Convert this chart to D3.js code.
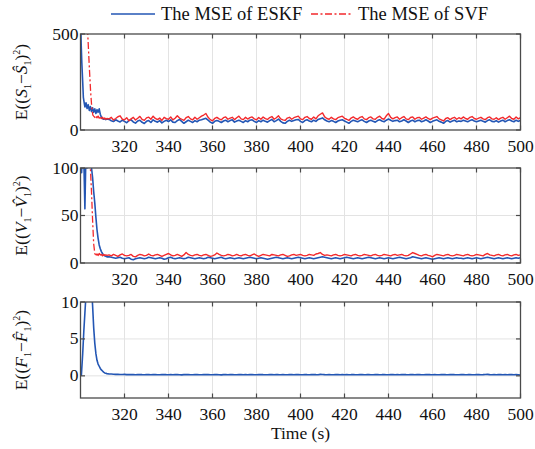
<!DOCTYPE html>
<html><head><meta charset="utf-8">
<script src="https://cdn.jsdelivr.net/npm/d3@7"></script>
<style>
body{margin:0;background:#fff;}
svg{display:block;}
text{font-family:'Liberation Serif','Times New Roman','DejaVu Serif',serif;}
</style></head>
<body>
<svg id="chart" width="535" height="449"></svg>
<script>
// ---------------- DATA ----------------
const xTicks = [320,340,360,380,400,420,440,460,480,500];
const yTicksS = [0,500];
const yTicksV = [0,50,100];
const yTicksF = [0,5,10];
const seriesNames = ["The MSE of ESKF","The MSE of SVF"];
const steadyStart = 313; // steady arrays: one value per second from 313 s to 500 s

// transient parts [time, value]
const eskfS_tr = [[300,620],[300.3,450],[300.6,350],[301,250],[301.3,170],[301.7,140],[302,120],[302.5,142],[303,112],[303.5,132],[304,102],[304.5,122],[305,96],[305.5,116],[306,92],[306.5,110],[307,86],[307.5,106],[308,92],[308.5,110],[309,82],[309.5,66],[310,60],[310.5,56],[311,58],[311.5,54],[312,57]];
const svfS_tr  = [[300,2500],[302,1200],[303,620],[303.3,500],[304,330],[304.6,200],[305.1,120],[305.6,78],[306,72],[306.5,66],[307,70],[307.5,64],[308,72],[308.5,62],[309,64],[309.5,60],[310,66],[310.5,58],[311,62],[311.5,56],[312,60]];
const eskfV_tr = [[300,140],[300.5,95],[301,130],[301.5,110],[302,57],[302.5,120],[303,100],[303.5,130],[304,105],[304.5,115],[305,100],[305.5,90],[306,75],[306.5,63],[307,48],[307.5,35],[308,26],[308.5,19],[309,15],[309.5,12],[310,10],[310.5,8.5],[311,7.5],[311.5,7],[312,6.5]];
const svfV_tr  = [[300,300],[302,200],[303,150],[304,115],[304.5,100],[305,75],[305.5,45],[306,20],[306.5,10],[307,8],[307.5,9.5],[308,8],[308.5,10],[309,8.5],[309.5,9],[310,7.5],[310.5,9],[311,8],[311.5,8.5],[312,8]];
const eskfF_tr = [[300,1.0],[300.4,0.1],[301,3],[301.5,6],[302,8.5],[302.5,11],[303,14],[303.5,16],[304,17],[304.5,15],[305,12],[305.5,9.5],[306,6.5],[306.5,4.4],[307,3],[307.5,2.1],[308,1.6],[308.5,1.3],[309,1.0],[309.5,0.8],[310,0.65],[310.5,0.5],[311,0.4],[311.5,0.35],[312,0.3]];

// steady parts (313..500 s)
const svfS_st = [
58,66,52,60,69,74,56,53,64,48,58,66,52,61,71,55,50,63,67,56,
72,60,54,62,50,66,59,56,68,53,61,74,62,56,50,64,70,58,53,66,
56,64,72,78,86,66,54,48,60,66,58,53,64,68,56,62,66,54,64,72,
58,54,66,57,64,68,58,53,65,56,68,59,55,65,70,56,64,74,58,53,
50,62,66,56,64,68,72,58,54,66,70,60,56,68,58,74,82,89,68,60,
56,66,58,54,64,68,72,61,56,50,62,68,60,56,66,70,58,54,64,68,
58,56,66,72,60,56,74,86,66,58,64,68,56,64,70,58,54,65,68,56,
64,66,56,62,68,60,54,62,66,70,58,53,47,60,64,54,62,66,56,64,
58,68,60,56,66,70,60,56,62,66,58,54,64,68,58,56,64,54,62,66,
56,64,72,60,56,68,58,64];
const eskfS_st = [
55,48,44,53,47,42,51,45,38,49,53,42,36,47,51,40,34,45,49,39,
53,45,41,49,37,45,51,44,53,41,39,49,55,45,35,43,51,45,39,49,
43,51,53,57,61,51,41,35,45,49,45,39,47,51,43,49,53,41,47,51,
45,39,49,43,51,53,45,39,49,43,51,45,41,49,55,43,49,57,45,37,
35,45,51,45,49,53,55,45,39,49,53,47,43,51,45,55,59,63,53,47,
43,49,45,39,47,51,53,47,41,35,45,51,47,43,49,53,45,39,47,51,
45,41,49,53,47,43,51,57,51,45,49,51,43,47,53,47,39,47,51,43,
49,51,43,47,53,47,39,45,49,53,45,41,35,45,49,41,47,51,43,47,
45,51,47,43,49,53,47,43,47,51,45,41,49,53,45,43,49,41,47,51,
43,49,53,47,43,51,45,49];
const svfV_st = [
8.5,7.5,9,8,7,8.5,9.5,8,7.5,8,9,7,6.5,8,9,8.5,7.5,8,9.5,8,
7.5,8.5,9,8,7,8,9,10,8.5,7.5,8,9,8,7,8.5,11,9,8,7.5,8.5,
9,8,7.5,8.5,9,8,7,7.5,8.5,10.5,9,8,7.5,8,9,8.5,7.5,8,9,8,
7.5,8.5,9,8,7.5,8.5,9.5,8,7,8,9,8.5,8,7.5,9,8.5,8,7.5,8.5,9,
8,7,7.5,8.5,9,8,8.5,9,8,7.5,8,9,8.5,8,9.5,10,11,9,8,8.5,
8,7.5,8.5,9,8,7.5,8,9,8.5,8,7.5,8.5,9,8,7.5,8,9,8.5,8,7.5,
8.5,9,8,7.5,8,9,8.5,8,7.5,8.5,9,8,8.5,9,8,7.5,8,9.5,11,10,
9,8,7.5,8.5,9,8,7.5,6.5,8,9,8.5,8,7.5,8.5,9,8,7.5,8,9,8.5,
8,7.5,8.5,9,8,7.5,8,9,8.5,8,7.5,9,10,8.5,8,7.5,8.5,9,8,7.5,
8.5,9,8,7.5,8.5,9,8,8.5];
const eskfV_st = [
6.5,6,5.5,5,5.5,6,5,4.5,5,5.5,4,3.5,4.5,5,5.5,5,4.5,5,6,5.5,
5,4.5,5,5.5,5,4,4.5,5.5,6,5,4.5,5,5.5,5,4.5,5,6,5.5,5,4.5,
5,5.5,5,4.5,5,6,5.5,5,4.5,5,5.5,6,5,4.5,5,5.5,5,4.5,5,5.5,
5,4.5,5,5.5,6,5.5,5,4.5,5,5.5,5,4.5,4,4.5,5,5.5,6,5.5,5,4.5,
5,5.5,5,4.5,5,5.5,6,5.5,5,4.5,5,5.5,5,4.5,5,5.5,6,6.5,6,5.5,
5,4.5,5,5.5,5,4.5,5,5.5,6,5.5,5,4.5,5,5.5,5,4.5,5,5.5,6,5.5,
5,4.5,5,5.5,5,4.5,5,5.5,5,4.5,5,5.5,6,5.5,5,4.5,5,5.5,6.5,6,
5.5,5,4.5,5,5.5,5,4.5,4,4.5,5,5.5,5,4.5,5,5.5,5,4.5,5,5.5,5,
5,4.5,5,5.5,5,4.5,5,5.5,5,4.5,5,5.5,6,5.5,5,4.5,5,5.5,5,4.5,
5,5.5,5,4.5,5,5.5,5,5.5];
const eskfF_st = [
0.26,0.24,0.22,0.2,0.21,0.19,0.18,0.2,0.17,0.16,0.18,0.17,0.15,0.17,0.19,0.16,0.15,0.17,0.16,0.14,
0.16,0.18,0.15,0.14,0.17,0.19,0.16,0.15,0.17,0.14,0.16,0.18,0.15,0.13,0.16,0.18,0.17,0.15,0.14,0.16,
0.18,0.15,0.14,0.17,0.16,0.19,0.15,0.14,0.16,0.18,0.15,0.13,0.16,0.17,0.15,0.18,0.16,0.14,0.15,0.17,
0.16,0.14,0.17,0.15,0.18,0.16,0.14,0.15,0.17,0.19,0.16,0.14,0.15,0.17,0.16,0.14,0.18,0.16,0.15,0.17,
0.15,0.14,0.16,0.18,0.15,0.17,0.16,0.14,0.15,0.18,0.16,0.15,0.17,0.19,0.16,0.15,0.2,0.18,0.16,0.15,
0.17,0.15,0.14,0.16,0.18,0.15,0.16,0.14,0.17,0.15,0.16,0.18,0.15,0.14,0.16,0.17,0.15,0.16,0.18,0.15,
0.14,0.16,0.17,0.15,0.16,0.18,0.15,0.14,0.16,0.17,0.15,0.16,0.14,0.17,0.19,0.16,0.15,0.17,0.16,0.14,
0.16,0.17,0.15,0.14,0.16,0.18,0.16,0.15,0.17,0.15,0.14,0.16,0.18,0.16,0.15,0.17,0.19,0.16,0.15,0.14,
0.16,0.17,0.15,0.16,0.18,0.15,0.14,0.16,0.17,0.15,0.16,0.18,0.2,0.17,0.15,0.16,0.14,0.16,0.17,0.15,
0.16,0.14,0.16,0.18,0.15,0.16,0.14,0.12];

// ---------------- DRAW ----------------
const FONT = "'Liberation Serif','Times New Roman','DejaVu Serif',serif";
const BLUE = "#2356b4", RED = "#f2292c";
const DASH = "7,2.5,2,2.5";
const svg = d3.select("#chart").attr("font-family", FONT);
const x = d3.scaleLinear().domain([300,500]).range([80.5,520.5]);

function combine(tr, st){
  return tr.concat(st.map((v,i)=>[steadyStart+i, v]));
}

const panels = [
  {range:[130,34], domain:[0,500], ticks:yTicksS, series:[combine(eskfS_tr,eskfS_st), combine(svfS_tr,svfS_st)], label:["S","S\u0302"]},
  {range:[263,168], domain:[0,100], ticks:yTicksV, series:[combine(eskfV_tr,eskfV_st), combine(svfV_tr,svfV_st)], label:["V","V\u0302"]},
  {range:[398,302], domain:[-3,10], ticks:yTicksF, series:[combine(eskfF_tr,eskfF_st)], label:["F","F\u0302"]}
];

panels.forEach((p,pi)=>{
  const y = d3.scaleLinear().domain(p.domain).range(p.range);
  const g = svg.append("g");
  const top = p.range[1], bot = p.range[0];
  const L = x.range()[0], R = x.range()[1];
  // grid
  g.append("g").selectAll("line").data(xTicks.filter(t=>t<500)).join("line")
    .attr("x1",d=>x(d)).attr("x2",d=>x(d)).attr("y1",top).attr("y2",bot)
    .attr("stroke","#e3e3e3").attr("stroke-width",1);
  g.append("g").selectAll("line").data(p.ticks.filter(t=>y(t)>top+1 && y(t)<bot-1)).join("line")
    .attr("x1",L).attr("x2",R).attr("y1",d=>y(d)).attr("y2",d=>y(d))
    .attr("stroke","#e3e3e3").attr("stroke-width",1);
  // clip
  const cid = "clip"+pi;
  svg.append("clipPath").attr("id",cid).append("rect")
    .attr("x",L).attr("y",top).attr("width",R-L).attr("height",bot-top);
  const line = d3.line().x(d=>x(d[0])).y(d=>y(d[1]));
  const lg = g.append("g").attr("clip-path",`url(#${cid})`);
  p.series.forEach((s,si)=>{
    if(si===0){
      lg.append("path").datum(s).attr("d",line).attr("fill","none")
        .attr("stroke",BLUE).attr("stroke-width",1.6).attr("stroke-linejoin","round");
    } else {
      // dash-dot style is visible on the transient; the noisy tail reads as a solid line
      const cut = s.findIndex(d=>d[0]>=307);
      lg.append("path").datum(s.slice(0,cut+1)).attr("d",line).attr("fill","none")
        .attr("stroke",RED).attr("stroke-width",1.3).attr("stroke-dasharray",DASH);
      lg.append("path").datum(s.slice(cut)).attr("d",line).attr("fill","none")
        .attr("stroke",RED).attr("stroke-width",1.4).attr("stroke-linejoin","round");
    }
  });
  // box
  g.append("rect").attr("x",L).attr("y",top).attr("width",R-L).attr("height",bot-top)
    .attr("fill","none").attr("stroke","#4a4a4a").attr("stroke-width",1.3);
  // ticks (inward, both sides)
  const tk = g.append("g").attr("stroke","#4a4a4a").attr("stroke-width",1.2);
  xTicks.forEach(t=>{
    tk.append("line").attr("x1",x(t)).attr("x2",x(t)).attr("y1",bot).attr("y2",bot-4.5);
    tk.append("line").attr("x1",x(t)).attr("x2",x(t)).attr("y1",top).attr("y2",top+4.5);
  });
  p.ticks.forEach(t=>{
    tk.append("line").attr("x1",L).attr("x2",L+4.5).attr("y1",y(t)).attr("y2",y(t));
    tk.append("line").attr("x1",R).attr("x2",R-4.5).attr("y1",y(t)).attr("y2",y(t));
  });
  // tick labels
  g.append("g").selectAll("text").data(xTicks).join("text")
    .attr("font-family",FONT)
    .attr("x",d=>x(d)).attr("y",bot+21.5).attr("text-anchor","middle")
    .attr("font-size",17.5).attr("fill","#111").text(d=>d);
  g.append("g").selectAll("text").data(p.ticks).join("text")
    .attr("font-family",FONT)
    .attr("x",L-2).attr("y",d=>y(d)+5.5).attr("text-anchor","end")
    .attr("font-size",17.5).attr("fill","#111").text(d=>d);
  // y label
  const cy = (top+bot)/2;
  const t = svg.append("text").attr("transform",`translate(27,${cy}) rotate(-90)`)
    .attr("font-family",FONT)
    .attr("text-anchor","middle").attr("font-size",17.5).attr("fill","#111");
  t.append("tspan").text("E((");
  t.append("tspan").attr("font-style","italic").text(p.label[0]);
  t.append("tspan").attr("font-size",10).attr("dy",4).text("1");
  t.append("tspan").attr("dy",-4).text("\u2212");
  t.append("tspan").attr("font-style","italic").text(p.label[1]);
  t.append("tspan").attr("font-size",10).attr("dy",4).text("1");
  t.append("tspan").attr("dy",-4).text(")");
  t.append("tspan").attr("font-size",10).attr("dy",-7).text("2");
  t.append("tspan").attr("dy",7).text(")");
});

// x title
svg.append("text").attr("font-family",FONT).attr("x",300.5).attr("y",439).attr("text-anchor","middle")
  .attr("font-size",17.5).attr("fill","#111").text("Time (s)");

// legend
const leg = svg.append("g");
leg.append("line").attr("x1",111).attr("x2",155).attr("y1",14).attr("y2",14)
  .attr("stroke",BLUE).attr("stroke-width",1.5);
leg.append("text").attr("font-family",FONT).attr("x",161).attr("y",19.5).attr("font-size",18.5).attr("fill","#111").text(seriesNames[0]);
leg.append("line").attr("x1",311).attr("x2",351).attr("y1",14).attr("y2",14)
  .attr("stroke",RED).attr("stroke-width",1.3).attr("stroke-dasharray",DASH);
leg.append("text").attr("font-family",FONT).attr("x",358).attr("y",19.5).attr("font-size",18.5).attr("fill","#111").text(seriesNames[1]);
</script>
</body></html>
